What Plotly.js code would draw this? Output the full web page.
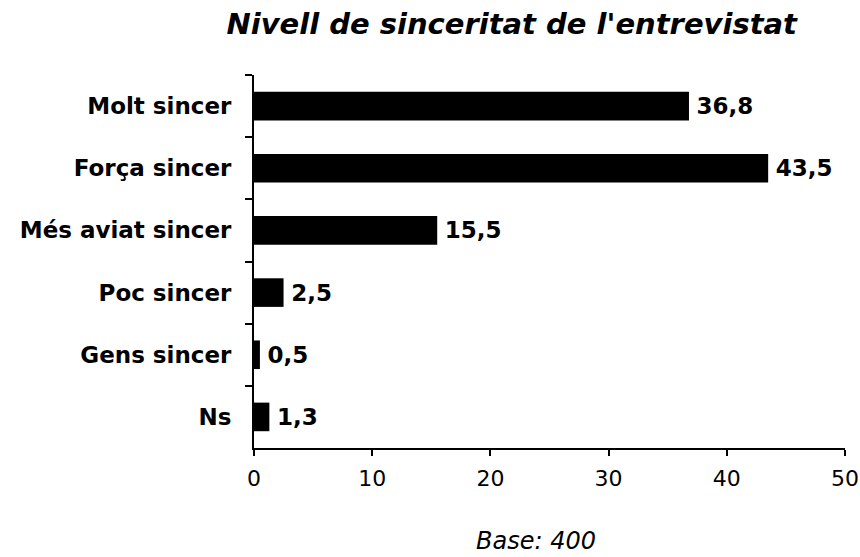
<!DOCTYPE html>
<html>
<head>
<meta charset="utf-8">
<script src="https://cdn.plot.ly/plotly-3.0.1.min.js"></script>
<style>html,body{margin:0;padding:0;background:#fff;}#chart{width:860px;height:557px;}</style>
</head>
<body>
<div id="chart"></div>
<script>
const categories = ["Molt sincer", "Força sincer", "Més aviat sincer", "Poc sincer", "Gens sincer", "Ns"];
const values = [36.8, 43.5, 15.5, 2.5, 0.5, 1.3];
const valueLabels = ["36,8", "43,5", "15,5", "2,5", "0,5", "1,3"];
const xTicks = [0, 10, 20, 30, 40, 50];

const font = "DejaVu Sans, Verdana, sans-serif";

const trace = {
  type: "bar",
  orientation: "h",
  x: values,
  y: categories,
  text: valueLabels.map(s => "\u2009" + s),
  textposition: "outside",
  cliponaxis: false,
  textfont: {family: font, size: 23, color: "#000", weight: "bold"},
  marker: {color: "#000", line: {width: 0}},
  hoverinfo: "none"
};

const layout = {
  width: 860, height: 557,
  paper_bgcolor: "#fff", plot_bgcolor: "#fff",
  margin: {l: 254, r: 15, t: 75, b: 109},
  bargap: 0.54,
  showlegend: false,
  title: {
    text: "<i><b>Nivell de sinceritat de l'entrevistat</b></i>",
    font: {family: font, size: 29, color: "#000"},
    xref: "container", x: 0.595, xanchor: "center",
    yref: "container", y: 0.958, yanchor: "middle"
  },
  xaxis: {
    range: [0, 50],
    tickvals: xTicks,
    ticktext: xTicks.map(String),
    showgrid: false, zeroline: false,
    showline: true, linecolor: "#000", linewidth: 2,
    ticks: "outside", ticklen: 6, tickwidth: 2, tickcolor: "#000",
    ticklabelstandoff: 4,
    tickfont: {family: font, size: 22, color: "#000"},
    fixedrange: true
  },
  yaxis: {
    autorange: "reversed",
    type: "category",
    showgrid: false, zeroline: false,
    showline: true, linecolor: "#000", linewidth: 2,
    ticks: "outside", ticklen: 7, tickwidth: 2, tickcolor: "#000",
    tickson: "boundaries",
    ticklabelstandoff: 16,
    tickfont: {family: font, size: 23, color: "#000", weight: "bold"},
    fixedrange: true
  },
  annotations: [{
    text: "<i>Base: 400</i>",
    xref: "paper", yref: "paper",
    x: (536 - 254) / 591, y: -0.25, xanchor: "center", yanchor: "middle",
    showarrow: false,
    font: {family: font, size: 24, color: "#000"}
  }]
};

Plotly.newPlot("chart", [trace], layout, {staticPlot: true, displayModeBar: false});
</script>
</body>
</html>
